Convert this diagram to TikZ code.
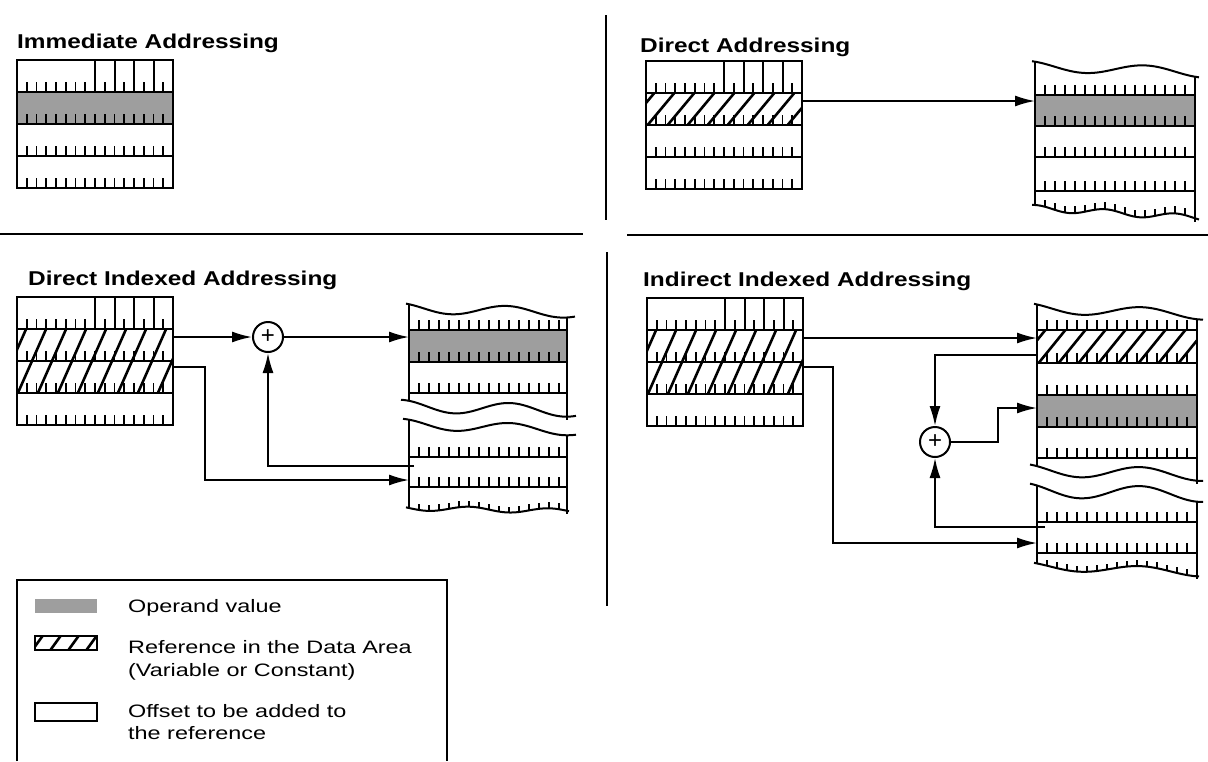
\documentclass[tikz,border=0pt]{standalone}
\usepackage{fontspec}
\setmainfont{Liberation Sans}
\newfontfamily\ttlfont[FakeStretch=1.22]{Liberation Sans}
\newfontfamily\lgdfont[FakeStretch=1.3]{Liberation Sans}
\usetikzlibrary{arrows.meta,patterns}

\tikzset{
  ln/.style={line width=2pt},
  tick/.style={line width=1.8pt},
  hatchln/.style={line width=2.6pt},
  shade/.style={fill=black!38},
  divider/.style={line width=1.4pt},
  arr/.style={line width=1.9pt, -{Latex[length=20pt,width=11pt]}},
  regbox/.style={draw, line width=2pt, minimum width=156pt, minimum height=128pt, inner sep=0pt, outer sep=0pt},
  sumnode/.style={circle, draw, line width=2pt, minimum size=30pt, inner sep=0pt, font=\fontsize{24}{24}\selectfont},
  title/.style={anchor=base west, inner sep=0pt, font=\ttlfont\bfseries\fontsize{20}{24}\selectfont},
  lgd/.style={anchor=base west, inner sep=0pt, font=\lgdfont\fontsize{18}{22}\selectfont},
}

% register: name, x0, ytop
\newcommand\regframe[3]{%
  \node[regbox, anchor=north west] (#1) at (#2,#3) {};
  \foreach \r in {1,2,3} {\draw[ln] (#2,{#3+\r*32}) -- ++(156,0);}
  \foreach \r in {1,...,4} {\foreach \i in {1,...,15} {\draw[tick] ({#2+\i*9.75},{#3+\r*32}) -- ++(0,-10);}}
  \foreach \i in {8,10,12,14} {\draw[ln] ({#2+\i*9.75},#3) -- ++(0,32);}
}
% hatched band: x0, ytop, width, height
\newcommand\hatchband[4]{%
  \begin{scope}
    \clip (#1,#2) rectangle ++(#3,#4);
    \foreach \k in {-2,...,9} {\draw[hatchln] ({#1+\k*20},{#2+#4+2}) -- ++(30,{-#4-4});}
  \end{scope}}

\begin{document}
\begin{tikzpicture}[x=1pt,y=-1pt]
\useasboundingbox (0,0) rectangle (1208,761);
\fill[white] (0,0) rectangle (1208,761);

% dividers
\draw[divider] (0,234) -- (583,234);
\draw[divider] (627,235) -- (1208,235);
\draw[divider] (606,15) -- (606,220);
\draw[divider] (607,252) -- (607,606);

% titles
\node[title] (T1) at (17,48) {Immediate Addressing};
\node[title] (T2) at (640,52) {Direct Addressing};
\node[title] (T3) at (28,285) {Direct Indexed Addressing};
\node[title] (T4) at (643,286) {Indirect Indexed Addressing};

% ---------- Immediate ----------
\fill[shade] (17,92) rectangle (173,124);
\regframe{R1}{17}{60}

% ---------- Direct ----------
\hatchband{646}{93}{156}{32}
\regframe{R2}{646}{61}
\coordinate (R2a) at (802,101);

\begin{scope}[declare function={
  mtop(\t)=66+0.04*(\t-1035)+5*sin((\t-1035)/120*360-60);
  mbot(\t)=208+0.06*(\t-1035)+3*sin((\t-1035)/70*360-90);}]
  \fill[shade] (1035,95) rectangle (1195,126);
  \draw[ln] plot[domain=1032:1199,samples=60,smooth,variable=\t] (\t,{mtop(\t)});
  \draw[ln] plot[domain=1032:1199,samples=60,smooth,variable=\t] (\t,{mbot(\t)});
  \draw[ln] (1035,{mtop(1035)}) -- (1035,{mbot(1035)});
  \draw[ln] (1195,{mtop(1195)}) -- (1195,{mbot(1195)+4});
  \foreach \y in {95,126,157,191} {\draw[ln] (1035,\y) -- (1195,\y);}
  \foreach \t in {1045,1055,...,1185} {
    \foreach \y in {95,126,157,191} {\draw[tick] (\t,\y) -- ++(0,-10);}
    \draw[tick] (\t,{mbot(\t)}) -- ++(0,-7);}
\end{scope}
\coordinate (M1a) at (1035,101);
\draw[arr] (R2a) -- (M1a);

% ---------- Direct Indexed ----------
\hatchband{17}{329}{156}{64}
\regframe{R3}{17}{297}
\coordinate (R3a) at (173,337);
\coordinate (R3b) at (173,367);

\begin{scope}[declare function={
  topa(\t)=308+0.03*(\t-409)+5*sin((\t-409)/110*360-49);
  bota(\t)=406+0.03*(\t-409)+6*sin((\t-409)/110*360-60);
  topb(\t)=424+0.04*(\t-409)+5*sin((\t-409)/110*360-60);
  botb(\t)=508+0.02*(\t-409)+2.5*sin((\t-409)/80*360);}]
  \fill[shade] (409,330) rectangle (567,362);
  \draw[ln] plot[domain=406:575,samples=60,smooth,variable=\t] (\t,{topa(\t)});
  \draw[ln] plot[domain=401:576,samples=60,smooth,variable=\t] (\t,{bota(\t)});
  \draw[ln] plot[domain=403:576,samples=60,smooth,variable=\t] (\t,{topb(\t)});
  \draw[ln] plot[domain=406:569,samples=60,smooth,variable=\t] (\t,{botb(\t)});
  \draw[ln] (409,{topa(409)}) -- (409,{bota(409)});
  \draw[ln] (567,{topa(567)}) -- (567,{bota(567)+3});
  \draw[ln] (409,{topb(409)}) -- (409,{botb(409)});
  \draw[ln] (567,{topb(567)}) -- (567,{botb(567)+3});
  \foreach \y in {330,362,393,457,487} {\draw[ln] (409,\y) -- (567,\y);}
  \foreach \t in {419,429,...,559} {
    \foreach \y in {330,362,393,457,487} {\draw[tick] (\t,\y) -- ++(0,-10);}
    \draw[tick] (\t,{botb(\t)}) -- ++(0,-6);}
\end{scope}
\coordinate (M2a) at (409,337);
\coordinate (M2b) at (414,466);
\coordinate (M2c) at (409,480);

\node[sumnode] (S1) at (268,337) {+};
\draw[arr] (R3a) -- (S1);
\draw[arr] (S1) -- (M2a);
\draw[arr] (R3b) -- ++(32,0) |- (M2c);
\draw[arr] (M2b) -| (S1);

% ---------- Indirect Indexed ----------
\hatchband{647}{330}{155}{64}
\regframe{R4}{647}{298}
\coordinate (R4a) at (802,338);
\coordinate (R4b) at (802,367);

\begin{scope}[declare function={
  topa(\t)=308+0.04*(\t-1037)+5*sin((\t-1037)/120*360-45);
  bota(\t)=470+0.03*(\t-1037)+6*sin((\t-1037)/120*360-40);
  topb(\t)=490+0.03*(\t-1037)+7*sin((\t-1037)/120*360-40);
  botb(\t)=566+0.04*(\t-1037)+4*sin((\t-1037)/120*360-40);}]
  \hatchband{1037}{330}{160}{33}
  \fill[shade] (1037,395) rectangle (1197,427);
  \draw[ln] plot[domain=1034:1203,samples=60,smooth,variable=\t] (\t,{topa(\t)});
  \draw[ln] plot[domain=1030:1203,samples=60,smooth,variable=\t] (\t,{bota(\t)});
  \draw[ln] plot[domain=1030:1203,samples=60,smooth,variable=\t] (\t,{topb(\t)});
  \draw[ln] plot[domain=1034:1199,samples=60,smooth,variable=\t] (\t,{botb(\t)});
  \draw[ln] (1037,{topa(1037)}) -- (1037,{bota(1037)});
  \draw[ln] (1197,{topa(1197)}) -- (1197,{bota(1197)+3});
  \draw[ln] (1037,{topb(1037)}) -- (1037,{botb(1037)});
  \draw[ln] (1197,{topb(1197)}) -- (1197,{botb(1197)+3});
  \foreach \y in {330,363,395,427,458,522,553} {\draw[ln] (1037,\y) -- (1197,\y);}
  \foreach \t in {1047,1057,...,1187} {
    \foreach \y in {330,363,395,427,458,522,553} {\draw[tick] (\t,\y) -- ++(0,-10);}
    \draw[tick] (\t,{botb(\t)}) -- ++(0,-6);}
\end{scope}
\coordinate (M3a) at (1037,338);
\coordinate (M3b) at (1037,355);
\coordinate (M3c) at (1037,408);
\coordinate (M3d) at (1045,527);
\coordinate (M3e) at (1037,543);

\node[sumnode] (S2) at (935,442) {+};
\draw[arr] (R4a) -- (M3a);
\draw[arr] (M3b) -| (S2);
\draw[arr] (S2) -- ++(63,0) |- (M3c);
\draw[arr] (M3d) -| (S2);
\draw[arr] (R4b) -- ++(31,0) |- (M3e);

% ---------- Legend ----------
\draw[ln] (17,761) -- (17,580) -- (447,580) -- (447,761);
\fill[shade] (35,599) rectangle (97,613);
\begin{scope}
  \clip (35,636) rectangle (97,650);
  \foreach \k in {0,...,4} {\draw[hatchln] ({31+\k*18},652) -- ++(13,-18);}
\end{scope}
\draw[ln] (35,636) rectangle (97,650);
\draw[ln] (35,703) rectangle (97,721);
\node[lgd] (L1) at (128,612) {Operand value};
\node[lgd] (L2) at (128,653) {Reference in the Data Area};
\node[lgd] (L2b) at (128,676) {(Variable or Constant)};
\node[lgd] (L3) at (128,717) {Offset to be added to};
\node[lgd] (L3b) at (128,739) {the reference};
\end{tikzpicture}
\end{document}
